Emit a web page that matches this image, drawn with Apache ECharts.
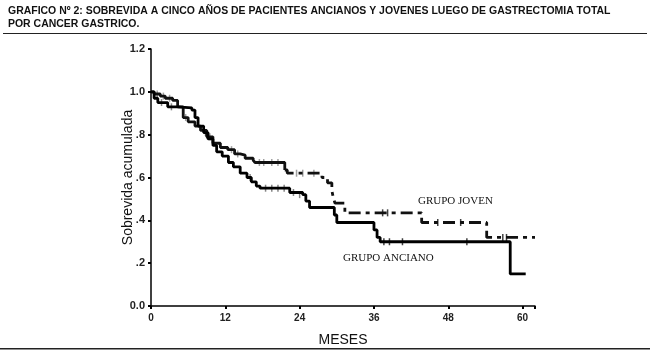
<!DOCTYPE html>
<html>
<head>
<meta charset="utf-8">
<script src="https://cdn.jsdelivr.net/npm/echarts@6/dist/echarts.min.js"></script>
<style>
  html, body { margin: 0; padding: 0; background: #fff; }
  #chart { width: 650px; height: 355px; }
</style>
</head>
<body>
<div id="chart"></div>
<script>
// Kaplan-Meier steps, [month, cumulative survival]
const joven = [
  [0, 1.0], [0.5, 0.99], [1.5, 0.98], [2.3, 0.97], [3.5, 0.96], [4.3, 0.93],
  [5.2, 0.88], [6, 0.86], [7.1, 0.84], [8, 0.82], [9, 0.79], [10, 0.76],
  [11.2, 0.74], [12.4, 0.73], [13.5, 0.71], [14.4, 0.705], [15.2, 0.69],
  [16.5, 0.68], [16.8, 0.67], [21.6, 0.635]
];
const jovenLate = [
  [21.6, 0.635], [22, 0.62], [27.6, 0.60], [28.5, 0.575], [29.2, 0.54],
  [29.4, 0.51], [29.7, 0.48], [31.3, 0.435], [43.7, 0.39], [54.2, 0.32], [62, 0.32]
];
const anciano = [
  [0, 1.0], [0.5, 0.97], [1.1, 0.95], [2.7, 0.93], [4.3, 0.925], [6.6, 0.915],
  [7.1, 0.88], [7.6, 0.84], [8.5, 0.81], [9.2, 0.78], [10, 0.75], [10.6, 0.72],
  [11.5, 0.70], [12.5, 0.67], [13.3, 0.65], [14.4, 0.62], [15.5, 0.60],
  [16.2, 0.58], [17, 0.56], [17.6, 0.55], [22.4, 0.53], [24.5, 0.52],
  [25, 0.49], [25.6, 0.46], [29.6, 0.425], [30, 0.39], [36, 0.355],
  [36.5, 0.32], [37, 0.30], [58, 0.15], [60.5, 0.15]
];
// censored observations
const jovenCens = [
  [1, 0.99], [2, 0.98], [3, 0.97], [5.6, 0.88], [9.5, 0.79], [13, 0.73],
  [14, 0.71], [17.5, 0.67], [18.2, 0.67], [19.5, 0.67], [20.5, 0.67],
  [23.5, 0.62], [24.5, 0.62], [26.3, 0.62], [37.4, 0.435], [38.2, 0.435],
  [46.3, 0.39], [50, 0.39], [56.8, 0.32], [57.4, 0.32]
];
const ancianoCens = [
  [1.7, 0.95], [3.3, 0.93], [8.8, 0.81], [16, 0.60], [18.5, 0.55],
  [19.5, 0.55], [20.5, 0.55], [21.5, 0.55], [23, 0.53], [24, 0.52],
  [37.6, 0.30], [38.5, 0.30], [40.6, 0.30], [51, 0.30]
];
const xTicks = ['0', '12', '24', '36', '48', '60'];
const yTicks = ['0.0', '.2', '.4', '.6', '.8', '1.0', '1.2'];

const chart = echarts.init(document.getElementById('chart'));

const sans = "'Liberation Sans', Arial, sans-serif";
const serif = "'Liberation Serif', 'Times New Roman', serif";

chart.setOption({
  animation: false,
  grid: { left: 151, right: 115, top: 49, bottom: 49 },
  xAxis: {
    type: 'value',
    min: 0,
    max: 62,
    interval: 12,
    name: 'MESES',
    nameLocation: 'middle',
    nameGap: 27,
    nameTextStyle: { fontFamily: sans, fontSize: 14, color: '#111' },
    axisLine: { lineStyle: { color: '#000', width: 1.5 } },
    axisTick: { length: 3, lineStyle: { color: '#000', width: 2 } },
    axisLabel: {
      fontFamily: sans, fontSize: 10, fontWeight: 'bold', color: '#222', margin: 7,
      formatter: (v) => (v % 12 === 0 ? xTicks[v / 12] : '')
    },
    splitLine: { show: false }
  },
  yAxis: {
    type: 'value',
    min: 0,
    max: 1.2,
    interval: 0.2,
    name: 'Sobrevida acumulada',
    nameLocation: 'middle',
    nameGap: 16,
    nameMoveOverlap: false,
    nameTextStyle: { fontFamily: sans, fontSize: 14, color: '#111' },
    axisLine: { show: true, lineStyle: { color: '#000', width: 1.5 } },
    axisTick: { show: true, length: 3, lineStyle: { color: '#000', width: 2 } },
    axisLabel: {
      fontFamily: sans, fontSize: 11, fontWeight: 'bold', color: '#222', margin: 6,
      formatter: (v) => yTicks[Math.round(v / 0.2)]
    },
    splitLine: { show: false }
  },
  series: [
    {
      name: 'GRUPO JOVEN', type: 'line', step: 'end', data: joven,
      showSymbol: false, lineStyle: { color: '#111', width: 2.8 }
    },
    {
      name: 'GRUPO JOVEN', type: 'line', step: 'end', data: jovenLate,
      showSymbol: false, lineStyle: { color: '#111', width: 2.8, type: [12, 5, 4, 5] }
    },
    {
      name: 'GRUPO ANCIANO', type: 'line', step: 'end', data: anciano,
      showSymbol: false, lineStyle: { color: '#000', width: 2.8 }
    },
    {
      type: 'scatter', data: jovenCens, symbol: 'rect', symbolSize: [1.5, 7],
      itemStyle: { color: (p) => (p.value[0] < 30 ? '#888' : '#111') }
    },
    {
      type: 'scatter', data: ancianoCens, symbol: 'rect', symbolSize: [1.5, 7],
      itemStyle: { color: (p) => (p.value[0] < 30 ? '#666' : '#111') }
    }
  ],
  graphic: [
    {
      type: 'text', x: 8, y: 4, scaleX: 0.91,
      style: {
        text: 'GRAFICO Nº 2: SOBREVIDA A CINCO AÑOS DE PACIENTES ANCIANOS Y JOVENES LUEGO DE GASTRECTOMIA TOTAL\nPOR CANCER GASTRICO.',
        font: "bold 11.5px 'Liberation Sans', Arial, sans-serif",
        lineHeight: 13,
        fill: '#111'
      }
    },
    { type: 'rect', shape: { x: 3, y: 33, width: 644, height: 1 }, style: { fill: '#222' } },
    { type: 'rect', shape: { x: 0, y: 348, width: 650, height: 1.5 }, style: { fill: '#222' } },
    {
      type: 'text', left: 418, top: 196,
      style: { text: 'GRUPO JOVEN', font: '11px ' + serif, fill: '#111' }
    },
    {
      type: 'text', left: 343, top: 253,
      style: { text: 'GRUPO ANCIANO', font: '11px ' + serif, fill: '#111' }
    }
  ]
});
</script>
</body>
</html>
